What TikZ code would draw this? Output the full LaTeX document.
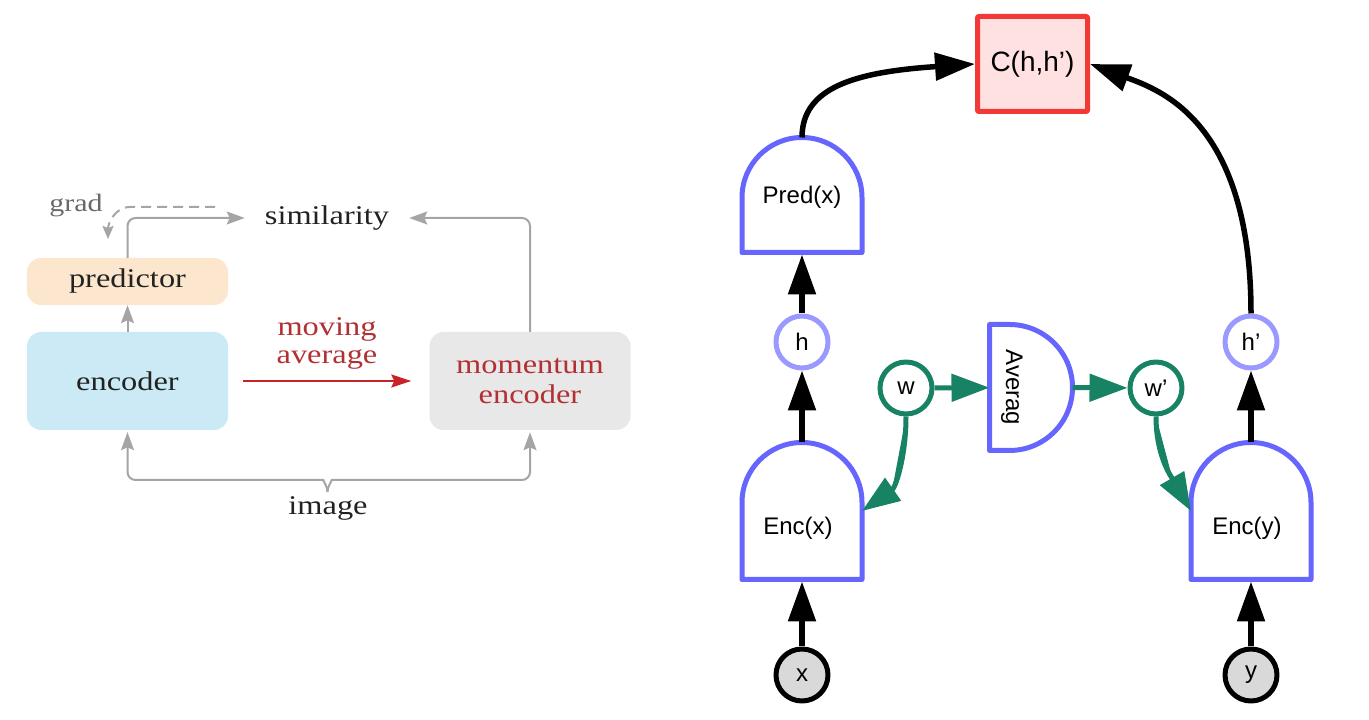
\documentclass[tikz,border=0pt]{standalone}
\usepackage{fontspec}
\setmainfont{Liberation Sans}
\newfontfamily\paperfont[FakeStretch=1.2]{Liberation Serif}
\usepackage{tikz}
\usetikzlibrary{positioning}
\usetikzlibrary{arrows.meta}

\definecolor{inkblack}{RGB}{34,34,34}
\definecolor{arrowgrey}{RGB}{165,165,165}
\definecolor{gradgrey}{RGB}{105,105,105}
\definecolor{predfill}{RGB}{252,230,206}
\definecolor{encfill}{RGB}{203,234,245}
\definecolor{momfill}{RGB}{232,232,232}
\definecolor{avgred}{RGB}{178,48,52}
\definecolor{arrowred}{RGB}{200,36,40}
\definecolor{gateblue}{RGB}{102,102,255}
\definecolor{hblue}{RGB}{153,153,255}
\definecolor{wgreen}{RGB}{24,130,100}
\definecolor{cred}{RGB}{243,56,56}
\definecolor{cfill}{RGB}{255,225,225}
\definecolor{xgrey}{RGB}{217,217,217}

\begin{document}
\begin{tikzpicture}[x=1pt,y=1pt,line join=round,
    paper text/.style={font=\paperfont\fontsize{27}{30}\selectfont,text=inkblack},
    box node/.style={paper text,rounded corners=14pt,minimum width=201pt,inner sep=0pt},
    grey arrow/.style={-{Stealth[length=18pt,width=13pt,inset=3pt]},draw=arrowgrey,line width=2pt},
    red arrow/.style={-{Stealth[length=20pt,width=13pt,inset=3pt]},draw=arrowred,line width=2pt},
    gate font/.style={font=\fontsize{24}{28}\selectfont},
    gate node/.style={rectangle,minimum width=120pt,inner sep=0pt,outer sep=0pt},
    gate line/.style={draw=gateblue,line width=5pt},
    var node/.style={circle,draw,line width=5pt,minimum size=52pt,inner sep=0pt,gate font},
    big arrow/.style={-{Triangle[length=40pt,width=27pt]},line width=5.5pt},
    green arrow/.style={-{Triangle[length=38pt,width=27pt]},line width=5pt,draw=wgreen,fill=wgreen}]

  \useasboundingbox (0,0) rectangle (1369,720);

  % left: predictor / momentum encoder
  \node[box node,fill=predfill,minimum height=47pt] (predictor) at (127.5,438.5) {predictor};
  \node[box node,fill=encfill,minimum height=98pt] (encoder) at (127.5,339) {encoder};
  \node[box node,fill=momfill,minimum height=98pt,align=center,text=avgred] (momentum) at (530,339) {momentum\\encoder};
  \node[paper text,inner xsep=20pt,inner ysep=0pt] (similarity) at (327,502) {similarity};
  \node[paper text,text=gradgrey,font=\paperfont\fontsize{25}{28}\selectfont] (grad) at (76,514) {grad};
  \node[paper text,text=avgred,align=center,font=\paperfont\fontsize{27}{28}\selectfont] (moving) at (327,377) {moving\\average};
  \node[paper text] (image) at (328,212) {image};

  \coordinate (grad tail) at (215,513);
  \coordinate (grad tip) at (108,481);
  \coordinate (image tip) at (327.5,228);

  \draw[grey arrow] (encoder) -- (predictor);
  \draw[grey arrow,rounded corners=8pt] (predictor.north) |- (similarity.west);
  \draw[grey arrow,rounded corners=8pt] (momentum.north) |- (similarity.east);
  \draw[grey arrow,-{Stealth[length=13pt,width=11pt,inset=2pt]},dash pattern=on 10pt off 6pt]
    (grad tail) -- ++(-85,0) to[out=180,in=90] (grad tip);
  \draw[red arrow,shorten <=15pt,shorten >=18pt] (encoder) -- (momentum);
  \draw[grey arrow,rounded corners=8pt,shorten >=2pt] (image tip) to[out=90,in=0] ++(-12,12) -| (encoder.south);
  \draw[grey arrow,rounded corners=8pt,shorten >=2pt] (image tip) to[out=90,in=180] ++(12,12) -| (momentum.south);

  % right: encoders with averaged weights
  \node[draw=cred,fill=cfill,line width=5pt,minimum width=110pt,minimum height=95pt,
        rounded corners=1pt,font=\fontsize{28}{32}\selectfont] (C) at (1032.5,656) {C(h,h’)};

  \node[gate node,minimum height=115pt,label={[gate font,yshift=-2pt]center:Pred(x)}] (pred) at (802,525) {};
  \node[gate node,minimum height=137pt,label={[gate font,xshift=-4pt,yshift=-17pt]center:Enc(x)}] (encx) at (802,209) {};
  \node[gate node,minimum height=137pt,label={[gate font,xshift=-4pt,yshift=-17pt]center:Enc(y)}] (ency) at (1251,209) {};
  \node[gate node,minimum width=83pt,minimum height=126pt] (avg) at (1031,332.5) {};
  \node[rotate=-90,gate font] at ([xshift=-19pt]avg.center) {Averag};

  \foreach \g in {pred,encx,ency}
    \draw[gate line] (\g.south west) -- ([yshift=-60pt]\g.north west)
      arc[start angle=180,end angle=0,radius=60pt] -- (\g.south east) -- cycle;
  \draw[gate line] (avg.north west) -- ([xshift=-63pt]avg.north east)
    arc[start angle=90,end angle=-90,radius=63pt] -- (avg.south west) -- cycle;

  \node[var node,draw=hblue] (h) at (802,378) {h};
  \node[var node,draw=hblue] (hp) at (1251,378) {h’};
  \node[var node,draw=wgreen] (w) at (906,332) {w};
  \node[var node,draw=wgreen] (wp) at (1156,332) {w’};
  \node[var node,fill=xgrey] (x) at (802,45) {x};
  \node[var node,fill=xgrey] (y) at (1251,45) {y};

  \draw[big arrow,shorten >=2pt] (x) -- (encx);
  \draw[big arrow,shorten >=2pt] (y) -- (ency);
  \draw[big arrow] (encx) -- (h);
  \draw[big arrow] (ency) -- (hp);
  \draw[big arrow,shorten >=2pt] (h) -- (pred);
  \draw[big arrow] (pred.north) .. controls +(0,50) and +(-120,-8) .. (C.west);
  \draw[big arrow] (hp.north) .. controls +(0,192) and +(70,-26) .. (C.east);

  \draw[green arrow] (w) -- (avg);
  \draw[green arrow] (avg) -- (wp);
  \draw[green arrow] (w) to[out=-90,in=35] (encx.east);
  \draw[green arrow] (wp) to[out=-90,in=120] (ency.west);
\end{tikzpicture}
\end{document}
